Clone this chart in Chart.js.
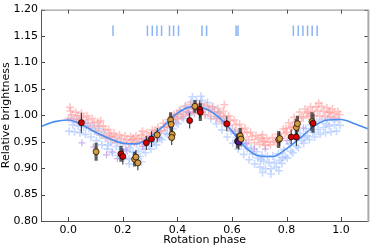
<!DOCTYPE html>
<html><head><meta charset="utf-8">
<script src="https://cdn.jsdelivr.net/npm/chart.js@4"></script>
<style>html,body{margin:0;padding:0;background:#fff}</style>
</head><body>
<canvas id="c" width="374" height="249" style="width:374px;height:249px;display:block"></canvas>
<script>
// ---- data ----
const xTickVals = [0.0, 0.2, 0.4, 0.6, 0.8, 1.0];
const yTickVals = [0.80, 0.85, 0.90, 0.95, 1.00, 1.05, 1.10, 1.15, 1.20];

const modelPhase = [-0.10,-0.05,0.00,0.05,0.10,0.15,0.20,0.25,0.30,0.35,0.40,0.45,0.50,0.55,0.60,0.65,0.70,0.75,0.80,0.85,0.90,0.95,1.00,1.05,1.10];
const modelValue = [0.979,0.988,0.991,0.982,0.968,0.956,0.947,0.946,0.959,0.980,1.004,1.016,1.013,0.997,0.970,0.939,0.923,0.922,0.937,0.957,0.979,0.991,0.992,0.984,0.974];

const flarePhase = [0.164,0.290,0.308,0.325,0.342,0.371,0.386,0.404,0.490,0.507,0.615,0.622,0.825,0.843,0.860,0.877,0.894,0.912];
const flareLow = 1.15, flareHigh = 1.17;

const pinkCloud = [
[0.001,0.994],[0.008,1.008],[0.014,1.001],[0.021,0.991],[0.027,1.006],[0.034,0.999],
[0.042,0.988],[0.048,1.004],[0.055,0.996],[0.061,0.984],[0.068,0.999],[0.074,0.991],
[0.082,0.978],[0.088,0.994],[0.095,0.986],[0.101,0.971],[0.108,0.987],[0.114,0.979],
[0.122,0.963],[0.128,0.980],[0.135,0.972],[0.141,0.958],[0.148,0.973],[0.154,0.965],
[0.162,0.953],[0.168,0.966],[0.175,0.959],[0.181,0.950],[0.188,0.963],[0.194,0.956],
[0.202,0.948],[0.208,0.961],[0.215,0.954],[0.221,0.947],[0.228,0.960],[0.234,0.953],
[0.242,0.948],[0.248,0.961],[0.255,0.955],[0.261,0.950],[0.268,0.963],[0.274,0.957],
[0.282,0.953],[0.288,0.967],[0.295,0.960],[0.301,0.958],[0.308,0.972],[0.314,0.965],
[0.322,0.963],[0.328,0.977],[0.335,0.970],[0.341,0.971],[0.348,0.985],[0.354,0.978],
[0.362,0.978],[0.368,0.992],[0.375,0.985],[0.381,0.986],[0.388,1.001],[0.394,0.994],
[0.402,0.993],[0.408,1.010],[0.415,1.002],[0.421,0.998],[0.428,1.016],[0.434,1.007],
[0.442,1.003],[0.448,1.021],[0.455,1.012],[0.461,1.004],[0.468,1.022],[0.474,1.013],
[0.482,1.003],[0.488,1.021],[0.495,1.012],[0.501,1.001],[0.508,1.019],[0.514,1.010],
[0.522,0.998],[0.528,1.016],[0.535,1.007],[0.541,0.993],[0.548,1.013],[0.554,1.004],
[0.562,0.988],[0.568,1.008],[0.575,0.998],[0.581,0.981],[0.588,0.999],[0.594,0.990],
[0.602,0.973],[0.608,0.991],[0.615,0.982],[0.621,0.965],[0.628,0.983],[0.634,0.974],
[0.642,0.958],[0.648,0.976],[0.655,0.967],[0.661,0.953],[0.668,0.968],[0.674,0.960],
[0.682,0.948],[0.688,0.962],[0.695,0.955],[0.701,0.945],[0.708,0.958],[0.714,0.951],
[0.722,0.943],[0.728,0.956],[0.735,0.949],[0.741,0.944],[0.748,0.958],[0.754,0.951],
[0.762,0.948],[0.768,0.964],[0.775,0.956],[0.781,0.956],[0.788,0.974],[0.794,0.965],
[0.802,0.968],[0.808,0.986],[0.815,0.977],[0.821,0.978],[0.828,0.996],[0.834,0.987],
[0.842,0.988],[0.848,1.006],[0.855,0.997],[0.861,0.995],[0.868,1.012],[0.874,1.003],
[0.882,0.998],[0.888,1.016],[0.895,1.007],[0.901,0.999],[0.908,1.016],[0.914,1.008],
[0.922,0.999],[0.928,1.017],[0.935,1.008],[0.941,0.998],[0.948,1.014],[0.954,1.006],
[0.962,0.997],[0.968,1.012],[0.975,1.004],[0.981,0.995],[0.988,1.007],[0.994,1.001],
[0.006,1.015],[0.118,0.990],[0.272,0.970],[0.572,1.020],[0.712,0.963],[0.918,1.023],
[0.038,0.993],[0.158,0.961],[0.238,0.957],[0.318,0.970],[0.398,1.002],[0.478,1.014],
[0.558,0.998],[0.638,0.968],[0.718,0.950],[0.798,0.975],[0.878,1.006],[0.958,1.005]
];

const blueCloud = [
[0.003,0.970],[0.010,0.994],[0.016,0.982],[0.023,0.969],[0.030,0.992],[0.036,0.980],
[0.043,0.967],[0.050,0.989],[0.056,0.978],[0.063,0.964],[0.070,0.986],[0.076,0.975],
[0.083,0.959],[0.090,0.981],[0.096,0.970],[0.103,0.952],[0.110,0.975],[0.116,0.963],
[0.123,0.944],[0.130,0.968],[0.136,0.956],[0.143,0.936],[0.150,0.960],[0.156,0.948],
[0.163,0.929],[0.170,0.953],[0.176,0.941],[0.183,0.924],[0.190,0.949],[0.196,0.936],
[0.203,0.919],[0.210,0.946],[0.216,0.932],[0.223,0.917],[0.230,0.945],[0.236,0.930],
[0.243,0.919],[0.250,0.946],[0.256,0.932],[0.263,0.922],[0.270,0.950],[0.276,0.936],
[0.283,0.929],[0.290,0.955],[0.296,0.942],[0.303,0.936],[0.310,0.961],[0.316,0.949],
[0.323,0.944],[0.330,0.968],[0.336,0.956],[0.343,0.954],[0.350,0.978],[0.356,0.966],
[0.363,0.964],[0.370,0.988],[0.376,0.976],[0.383,0.974],[0.390,0.998],[0.396,0.986],
[0.403,0.984],[0.410,1.008],[0.416,0.996],[0.423,0.994],[0.430,1.018],[0.436,1.006],
[0.443,1.001],[0.450,1.025],[0.456,1.013],[0.463,1.004],[0.470,1.028],[0.476,1.016],
[0.483,1.004],[0.490,1.028],[0.496,1.016],[0.503,1.001],[0.510,1.024],[0.516,1.012],
[0.523,0.994],[0.530,1.016],[0.536,1.005],[0.543,0.984],[0.550,1.006],[0.556,0.995],
[0.563,0.972],[0.570,0.994],[0.576,0.983],[0.583,0.959],[0.590,0.981],[0.596,0.970],
[0.603,0.947],[0.610,0.970],[0.616,0.958],[0.623,0.936],[0.630,0.958],[0.636,0.947],
[0.643,0.926],[0.650,0.948],[0.656,0.937],[0.663,0.916],[0.670,0.939],[0.676,0.927],
[0.683,0.908],[0.690,0.931],[0.696,0.919],[0.703,0.902],[0.710,0.925],[0.716,0.913],
[0.723,0.899],[0.730,0.922],[0.736,0.910],[0.743,0.899],[0.750,0.923],[0.756,0.911],
[0.763,0.902],[0.770,0.927],[0.776,0.915],[0.783,0.909],[0.790,0.935],[0.796,0.922],
[0.803,0.919],[0.810,0.946],[0.816,0.932],[0.823,0.929],[0.830,0.956],[0.836,0.942],
[0.843,0.939],[0.850,0.966],[0.856,0.952],[0.863,0.947],[0.870,0.975],[0.876,0.961],
[0.883,0.954],[0.890,0.982],[0.896,0.968],[0.903,0.959],[0.910,0.988],[0.916,0.973],
[0.923,0.964],[0.930,0.991],[0.936,0.977],[0.943,0.967],[0.950,0.994],[0.956,0.980],
[0.963,0.969],[0.970,0.994],[0.976,0.982],[0.983,0.970],[0.990,0.992],[0.996,0.981],
[0.224,0.908],[0.268,0.912],[0.455,1.035],[0.712,0.892],[0.742,0.889],[0.772,0.895],[0.486,1.036],
[0.066,0.980],[0.146,0.944],[0.226,0.938],[0.306,0.948],[0.386,0.990],[0.466,1.020],
[0.546,0.996],[0.626,0.945],[0.706,0.916],[0.786,0.920],[0.866,0.958],[0.946,0.984]
];

const lavenderCloud = [
[0.050,0.948],[0.092,0.940],[0.140,0.925],[0.160,0.931],[0.180,0.918],[0.212,0.934],
[0.272,0.941],[0.332,0.958],[0.441,1.006],[0.572,0.986],[0.612,0.966],[0.652,0.946],
[0.682,0.936],[0.722,0.936],[0.802,0.952],[0.862,0.976]
];

// measured points: phase, value, error
const redPhase = [0.048,0.193,0.200,0.286,0.305,0.445,0.482,0.484,0.581,0.817,0.836,0.897];
const redValue = [0.986,0.927,0.922,0.948,0.955,0.990,1.011,1.006,0.984,0.959,0.959,0.985];
const redErr   = [0.019,0.015,0.015,0.013,0.015,0.015,0.017,0.017,0.014,0.014,0.017,0.018];
const redThick = [0,1,0,0,0,0,0,1,0,0,0,1];

const orangePhase = [0.102,0.243,0.248,0.255,0.326,0.375,0.377,0.381,0.379,0.464,0.630,0.633,0.771,0.775,0.836,0.840,0.893];
const orangeValue = [0.931,0.917,0.921,0.910,0.963,0.991,0.983,0.964,0.958,1.017,0.961,0.955,0.954,0.956,0.977,0.984,0.988];
const orangeErr   = [0.017,0.014,0.014,0.014,0.013,0.015,0.015,0.013,0.014,0.012,0.015,0.014,0.016,0.014,0.016,0.015,0.018];
const orangeThick = [1,1,0,0,0,1,1,0,0,1,1,0,1,0,1,1,1];

const purplePhase = [0.620,0.625];
const purpleValue = [0.951,0.949];
const purpleErr   = [0.014,0.014];
const purpleThick = [1,0];

// ---- build ----
const pts = arr => arr.map(p => ({x:p[0], y:p[1]}));
const xy = (xs, ys) => xs.map((x,i) => ({x:x, y:ys[i]}));
function bars(groups, thick){
  const out = [];
  groups.forEach(g => {
    g.p.forEach((x,i) => {
      if ((g.t[i] === 1) === thick) {
        out.push({x:x, y:g.v[i]-g.e[i]}, {x:x, y:g.v[i]+g.e[i]}, {x:x, y:null});
      }
    });
  });
  return out;
}
const groups = [
  {p:redPhase, v:redValue, e:redErr, t:redThick},
  {p:orangePhase, v:orangeValue, e:orangeErr, t:orangeThick},
  {p:purplePhase, v:purpleValue, e:purpleErr, t:purpleThick}
];
const flareData = [];
flarePhase.forEach(x => flareData.push({x:x, y:flareLow}, {x:x, y:flareHigh}, {x:x, y:null}));

const FONT = {family:'"DejaVu Sans", sans-serif', size:11};

const framePlugin = {
  id:'frame',
  afterDraw(chart){
    const {ctx, chartArea:a, scales:{x, y}} = chart;
    ctx.save();
    ctx.lineWidth = 1;
    ctx.strokeStyle = '#444';
    const L = 4;
    ctx.beginPath();
    xTickVals.forEach(v => {
      const px = Math.round(x.getPixelForValue(v)) + 0.5;
      ctx.moveTo(px, a.bottom); ctx.lineTo(px, a.bottom - L);
      ctx.moveTo(px, a.top); ctx.lineTo(px, a.top + L);
    });
    yTickVals.forEach(v => {
      const py = Math.round(y.getPixelForValue(v)) + 0.5;
      ctx.moveTo(a.left, py); ctx.lineTo(a.left + L, py);
      ctx.moveTo(a.right, py); ctx.lineTo(a.right - L, py);
    });
    ctx.stroke();
    ctx.strokeStyle = '#555';
    ctx.beginPath();
    ctx.moveTo(a.left + 0.5, a.top); ctx.lineTo(a.left + 0.5, a.bottom + 0.5);
    ctx.lineTo(a.right, a.bottom + 0.5);
    ctx.stroke();
    ctx.strokeStyle = '#888';
    ctx.beginPath();
    ctx.moveTo(a.left, a.top + 0.5); ctx.lineTo(a.right, a.top + 0.5);
    ctx.stroke();
    ctx.strokeStyle = '#aaa';
    ctx.lineWidth = 2;
    ctx.beginPath();
    ctx.moveTo(a.right, a.top); ctx.lineTo(a.right, a.bottom + 1);
    ctx.stroke();
    ctx.restore();
  }
};

new Chart(document.getElementById('c'), {
  type:'scatter',
  data:{
    datasets:[
      {data:xy(redPhase, redValue), pointRadius:3, pointBackgroundColor:'#d40000', pointBorderColor:'#000', pointBorderWidth:0.7, order:1},
      {data:xy(orangePhase, orangeValue), pointRadius:3, pointBackgroundColor:'#d69a40', pointBorderColor:'#000', pointBorderWidth:0.7, order:1},
      {data:xy(purplePhase, purpleValue), pointRadius:3, pointBackgroundColor:'#5a1890', pointBorderColor:'#000', pointBorderWidth:0.7, order:1},
      {data:bars(groups, false), showLine:true, pointRadius:0, borderColor:'rgba(20,20,20,0.85)', borderWidth:1.1, spanGaps:false, order:3},
      {data:bars(groups, true), showLine:true, pointRadius:0, borderColor:'rgba(30,30,30,0.7)', borderWidth:3.2, spanGaps:false, order:2},
      {data:flareData, showLine:true, pointRadius:0, borderColor:'#8ab4f4', borderWidth:1.5, spanGaps:false, order:5},
      {data:xy(modelPhase, modelValue), showLine:true, pointRadius:0, borderColor:'#4a8cf0', borderWidth:1.6, tension:0.4, cubicInterpolationMode:'monotone', order:5},
      {data:pts(lavenderCloud), pointStyle:'cross', pointRadius:3.5, borderColor:'rgba(185,150,230,0.75)', borderWidth:1.2, order:9},
      {data:pts(pinkCloud), pointStyle:'cross', pointRadius:4, borderColor:'rgba(255,150,150,0.55)', borderWidth:1.6, order:10},
      {data:pts(blueCloud), pointStyle:'cross', pointRadius:4, borderColor:'rgba(160,192,255,0.6)', borderWidth:1.6, order:11}
    ]
  },
  options:{
    responsive:false, animation:false, devicePixelRatio:1,
    layout:{padding:{top:7, right:4, left:0, bottom:0}},
    plugins:{legend:{display:false}, tooltip:{enabled:false}},
    scales:{
      x:{
        type:'linear', min:-0.1, max:1.1,
        afterBuildTicks: s => { s.ticks = xTickVals.map(v => ({value:v})); },
        afterFit: s => { s.height = 28; },
        grid:{display:false, drawTicks:false}, border:{display:false},
        ticks:{font:FONT, color:'#000', padding:3, maxRotation:0, callback: v => Number(v).toFixed(1)},
        title:{display:true, text:'Rotation phase', font:FONT, color:'#000', padding:{top:0, bottom:2}}
      },
      y:{
        type:'linear', min:0.80, max:1.20,
        afterBuildTicks: s => { s.ticks = yTickVals.map(v => ({value:v})); },
        afterFit: s => { s.width = 41; },
        grid:{display:false, drawTicks:false}, border:{display:false},
        ticks:{font:FONT, color:'#000', padding:3, callback: v => Number(v).toFixed(2)},
        title:{display:true, text:'Relative brightness', font:FONT, color:'#000', padding:{top:0, bottom:0}}
      }
    }
  },
  plugins:[framePlugin]
});
</script>
</body></html>
